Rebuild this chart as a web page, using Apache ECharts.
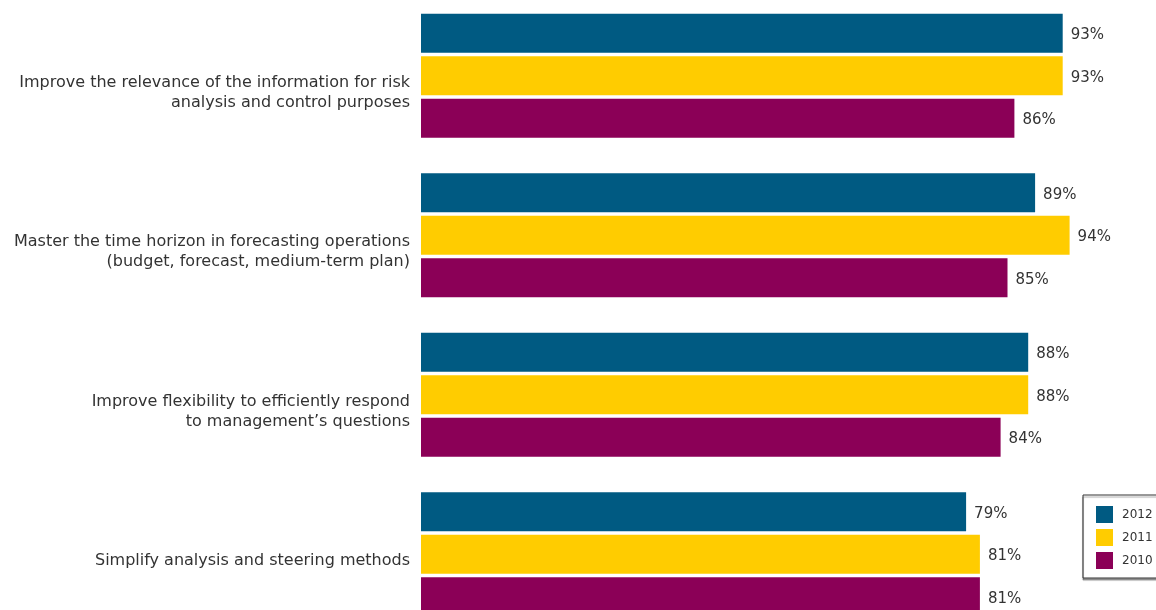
<!DOCTYPE html>
<html>
<head>
<meta charset="utf-8">
<script src="https://cdn.jsdelivr.net/npm/echarts@6/dist/echarts.min.js"></script>
<style>
  html, body { margin: 0; padding: 0; background: #fff; }
  #chart { width: 1156px; height: 610px; }
</style>
</head>
<body>
<div id="chart"></div>
<script>
// categories, top to bottom
var categories = [
  'Improve the relevance of the information for risk\nanalysis and control purposes',
  'Master the time horizon in forecasting operations\n(budget, forecast, medium-term plan)',
  'Improve flexibility to efficiently respond\nto management\u2019s questions',
  'Simplify analysis and steering methods'
];
var years = ['2012', '2011', '2010'];
var values2012 = [93, 89, 88, 79];
var values2011 = [93, 94, 88, 81];
var values2010 = [86, 85, 84, 81];
var colors = ['#005a82', '#ffcc00', '#8b0057'];

var chart = echarts.init(document.getElementById('chart'));

var FONT = 'DejaVu Sans';

function makeSeries(name, data, color) {
  return {
    name: name,
    type: 'bar',
    data: data,
    barWidth: 39,
    barGap: '9%',
    itemStyle: { color: color },
    label: {
      show: true,
      position: 'right',
      distance: 8,
      offset: [0, 2],
      formatter: '{c}%',
      color: '#333',
      fontSize: 15,
      fontFamily: FONT
    }
  };
}

var option = {
  animation: false,
  grid: {
    left: 421,
    right: 45,
    top: -4,
    height: 638,
    outerBoundsMode: 'none'
  },
  legend: {
    data: years,
    orient: 'vertical',
    left: 1083,
    top: 495,
    padding: [11, 40, 9, 13],
    itemWidth: 17,
    itemHeight: 17,
    itemGap: 6,
    icon: 'rect',
    backgroundColor: '#fff',
    borderColor: '#333',
    borderWidth: 1,
    shadowColor: 'rgba(0,0,0,0.35)',
    shadowOffsetY: 2,
    shadowBlur: 1,
    textStyle: { color: '#333', fontSize: 12, fontFamily: FONT, padding: [0, 0, 0, 4] }
  },
  xAxis: {
    type: 'value',
    min: 0,
    max: 100,
    show: false
  },
  yAxis: {
    type: 'category',
    inverse: true,
    data: categories,
    axisLine: { show: false },
    axisTick: { show: false },
    axisLabel: {
      margin: 11,
      color: '#333',
      fontSize: 16,
      lineHeight: 20,
      fontFamily: FONT,
      align: 'right',
      verticalAlign: 'top',
      padding: [-3, 0, 0, 0]
    }
  },
  series: [
    makeSeries(years[0], values2012, colors[0]),
    makeSeries(years[1], values2011, colors[1]),
    makeSeries(years[2], values2010, colors[2])
  ]
};

chart.setOption(option);
</script>
</body>
</html>
